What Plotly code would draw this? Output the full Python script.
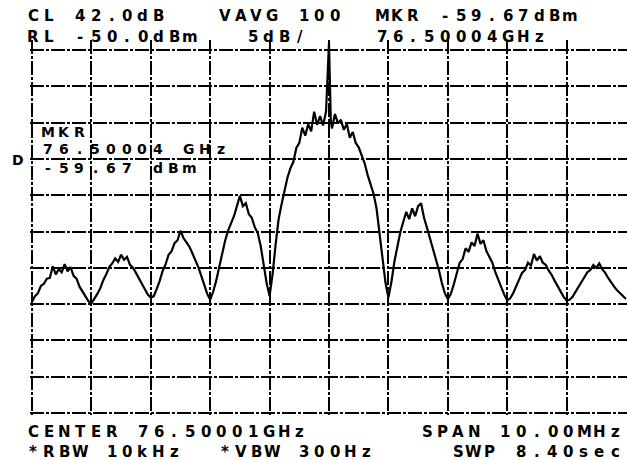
import numpy as np
import plotly.graph_objects as go

# Analyzer settings
CENTER_GHZ = 76.50001
SPAN_MHZ = 10.0
REF_LEVEL_DBM = -50.0
DB_PER_DIV = 5
N_DIV = 10

# Marker readout
MKR_OFFSET_MHZ = 0.03
MKR_LEVEL_DBM = -59.67

# Trace levels (dBm), one per sweep point across the span
levels_dbm = [
    -84.7, -83.9, -83.5, -82.5, -82.2, -81.5, -81.4, -79.8, -80.9, -80.2,
    -80.6, -79.5, -80.5, -79.9, -81.1, -81.5, -82.6, -83.3, -84.0, -84.6,
    -84.9, -84.3, -83.6, -82.8, -81.7, -80.9, -79.9, -79.4, -78.7, -79.2,
    -78.2, -78.9, -78.5, -79.6, -80.0, -80.7, -81.5, -82.3, -83.1, -83.7,
    -84.1, -83.9, -82.9, -81.8, -80.4, -79.5, -78.2, -77.7, -76.6, -76.2,
    -74.9, -75.9, -76.5, -77.1, -78.0, -78.9, -79.9, -81.1, -82.3, -83.6,
    -84.4, -83.3, -81.8, -80.0, -77.8, -76.3, -74.9, -73.9, -72.9, -71.5,
    -70.1, -71.5, -71.1, -72.6, -73.1, -74.4, -75.2, -77.0, -79.5, -82.1,
    -83.9, -80.9, -76.9, -73.4, -71.3, -69.3, -67.6, -66.3, -65.4, -63.5,
    -62.8, -60.7, -61.8, -60.2, -61.2, -58.5, -60.3, -59.1, -60.4, -58.5,
    -49.0, -60.8, -58.8, -60.1, -59.6, -61.0, -60.2, -62.1, -61.3, -62.8,
    -63.4, -64.6, -65.6, -67.2, -68.6, -69.8, -71.8, -75.5, -78.7, -82.0,
    -84.1, -82.0, -79.2, -77.0, -75.1, -73.7, -72.3, -73.3, -71.8, -72.9,
    -71.5, -71.1, -73.1, -74.5, -76.0, -77.4, -78.7, -80.3, -82.1, -83.5,
    -84.3, -83.6, -82.3, -80.9, -79.3, -78.8, -77.3, -77.8, -76.5, -77.0,
    -75.3, -76.7, -76.2, -77.7, -78.5, -79.3, -80.6, -81.7, -82.6, -83.7,
    -84.5, -84.2, -83.5, -82.6, -81.8, -80.7, -80.3, -79.3, -79.7, -78.1,
    -79.0, -78.4, -79.3, -79.6, -80.4, -81.0, -81.8, -82.6, -83.3, -84.0,
    -84.5, -84.4, -84.0, -83.3, -82.6, -81.8, -81.3, -80.6, -80.3, -79.6,
    -80.0, -79.4, -80.2, -80.7, -81.4, -82.1, -82.6, -83.1, -83.5, -83.9,
    -84.3,
]

# Uniform sweep grid across the span, with the marker point placed in it
freq_mhz = np.linspace(-SPAN_MHZ / 2, SPAN_MHZ / 2, len(levels_dbm))
freq_all = np.append(freq_mhz, MKR_OFFSET_MHZ)
level_all = np.append(np.array(levels_dbm), MKR_LEVEL_DBM)
order = np.argsort(freq_all, kind="stable")
freq_all = freq_all[order]
level_all = level_all[order]

bottom_dbm = REF_LEVEL_DBM - DB_PER_DIV * N_DIV
mkr_ghz = CENTER_GHZ + MKR_OFFSET_MHZ / 1000.0

# Page geometry (pixels)
W_PX, H_PX = 627, 460
M_L, M_R, M_T, M_B = 30, 0, 40, 45
PLOT_W = W_PX - M_L - M_R
PLOT_H = H_PX - M_T - M_B
GRID_L, GRID_R, GRID_T, GRID_B = 32, 626, 50, 413

mhz_per_px = SPAN_MHZ / (GRID_R - GRID_L)
db_per_px = DB_PER_DIV * N_DIV / (GRID_B - GRID_T)
x_range = [-SPAN_MHZ / 2 - (GRID_L - M_L) * mhz_per_px,
           SPAN_MHZ / 2 + (W_PX - M_R - GRID_R) * mhz_per_px]
y_range = [bottom_dbm - (H_PX - M_B - GRID_B) * db_per_px,
           REF_LEVEL_DBM + (GRID_T - M_T) * db_per_px]

fig = go.Figure()
fig.add_trace(go.Scatter(
    x=freq_all, y=level_all, mode="lines",
    line=dict(color="black", width=2.2),
    hoverinfo="skip", showlegend=False,
))

FONT = "DejaVu Sans"
PITCH = 15.7
annotations = []


def put(text, px, py, size=15):
    """Place a string in fixed character cells, left edge at px, centre line at py."""
    for k, ch in enumerate(text):
        if ch == " ":
            continue
        cx = px + 6 + k * PITCH
        annotations.append(dict(
            x=(cx - M_L) / PLOT_W, y=(H_PX - M_B - py) / PLOT_H,
            xref="paper", yref="paper", text=ch, showarrow=False,
            xanchor="center", yanchor="middle",
            font=dict(family=FONT, size=size, color="black", weight="bold"),
        ))


# Header
put("CL 42.0dB", 27, 16)
put("VAVG 100", 219, 16)
put(f"MKR {MKR_LEVEL_DBM:.2f}dBm", 376, 16)
put(f"RL {REF_LEVEL_DBM:.1f}dBm", 27, 37)
put(f"{DB_PER_DIV}dB/", 247, 37)
put(f"{mkr_ghz:.5f}GHz", 376, 37)

# Marker block inside the graticule
put("MKR", 42, 132, size=14)
put(f"{mkr_ghz:.5f} GHz", 42, 149, size=14)
put(f"{MKR_LEVEL_DBM:.2f} dBm", 42, 168, size=14)

# Detector letter
put("D", 12, 160, size=14)

# Footer
put(f"CENTER {CENTER_GHZ:.5f}GHz", 27, 432)
put(f"SPAN {SPAN_MHZ:.2f}MHz", 421, 432)
put("*RBW 10kHz", 27, 452)
put("*VBW 300Hz", 219, 452)
put("SWP 8.40sec", 452, 452)

grid_style = dict(
    showgrid=True, gridcolor="black", gridwidth=1.8, griddash="14px,2px,3px,2px",
    showticklabels=False, ticks="", zeroline=False, showline=False,
)

fig.update_layout(
    width=W_PX, height=H_PX,
    margin=dict(l=M_L, r=M_R, t=M_T, b=M_B),
    paper_bgcolor="white", plot_bgcolor="white",
    xaxis=dict(range=x_range, tickmode="array",
               tickvals=list(np.arange(-SPAN_MHZ / 2, SPAN_MHZ / 2 + 0.001, SPAN_MHZ / N_DIV)),
               **grid_style),
    yaxis=dict(range=y_range, tickmode="array",
               tickvals=list(np.arange(bottom_dbm, REF_LEVEL_DBM + 0.001, DB_PER_DIV)),
               **grid_style),
    annotations=annotations,
)

fig.write_html("out.html")
